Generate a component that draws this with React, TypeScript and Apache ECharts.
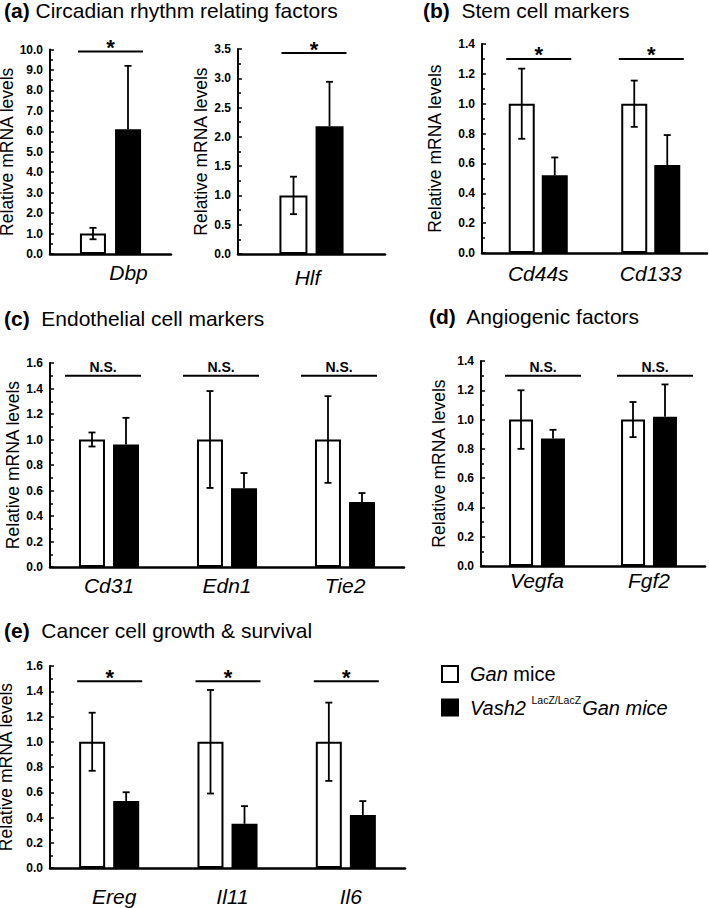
import React, { useEffect, useRef } from 'react';
import * as echarts from 'echarts';

// ---------- data ----------
const ganName = 'Gan mice';
const vashName = 'Vash2 LacZ/LacZ Gan mice';

const catsA1 = ['Dbp'];
const ganA1 = [1.0];
const ganErrA1 = [0.28];
const vashA1 = [6.1];
const vashErrA1 = [3.1];
const sigA1 = ['*'];

const catsA2 = ['Hlf'];
const ganA2 = [1.0];
const ganErrA2 = [0.32];
const vashA2 = [2.18];
const vashErrA2 = [0.76];
const sigA2 = ['*'];

const catsB = ['Cd44s', 'Cd133'];
const ganB = [1.0, 1.0];
const ganErrB = [0.235, 0.155];
const vashB = [0.52, 0.59];
const vashErrB = [0.12, 0.2];
const sigB = ['*', '*'];

const catsC = ['Cd31', 'Edn1', 'Tie2'];
const ganC = [1.0, 1.0, 1.0];
const ganErrC = [0.055, 0.38, 0.34];
const vashC = [0.96, 0.617, 0.51];
const vashErrC = [0.21, 0.12, 0.07];
const sigC = ['N.S.', 'N.S.', 'N.S.'];

const catsD = ['Vegfa', 'Fgf2'];
const ganD = [1.0, 1.0];
const ganErrD = [0.2, 0.12];
const vashD = [0.87, 1.02];
const vashErrD = [0.06, 0.22];
const sigD = ['N.S.', 'N.S.'];

const catsE = ['Ereg', 'Il11', 'Il6'];
const ganE = [1.0, 1.0, 1.0];
const ganErrE = [0.23, 0.41, 0.31];
const vashE = [0.53, 0.35, 0.42];
const vashErrE = [0.07, 0.14, 0.11];
const sigE = ['*', '*', '*'];

const yMaxes = [10, 3.5, 1.4, 1.6, 1.4, 1.6];
const yIntervals = [1, 0.5, 0.2, 0.2, 0.2, 0.2];
const sigLevels = [9.9, 3.43, 1.3, 1.5, 1.3, 1.48];

const titles = [
  { tag: '(a)', text: ' Circadian rhythm relating factors' },
  { tag: '(b)', text: '  Stem cell markers' },
  { tag: '(c)', text: '  Endothelial cell markers' },
  { tag: '(d)', text: '  Angiogenic factors' },
  { tag: '(e)', text: '  Cancer cell growth & survival' },
];
const yName = 'Relative mRNA levels';

// ---------- layout / style ----------
const FONT = 'Liberation Sans, Arial, Helvetica, sans-serif';

const panels = [
  { cats: catsA1, gan: ganA1, ganErr: ganErrA1, vash: vashA1, vashErr: vashErrA1, sig: sigA1,
    grid: { left: 50, top: 49.5, width: 121, height: 204.5 }, barW: 26, gap: 9, nameGap: 28, labelMargin: 8, shift: 18, sigX: [-32.5, 32.5], sigSize: 22 },
  { cats: catsA2, gan: ganA2, ganErr: ganErrA2, vash: vashA2, vashErr: vashErrA2, sig: sigA2,
    grid: { left: 238, top: 49, width: 147, height: 205 }, barW: 28, gap: 8, nameGap: 19, labelMargin: 13, shift: -4, sigX: [-30, 35], sigSize: 22 },
  { cats: catsB, gan: ganB, ganErr: ganErrB, vash: vashB, vashErr: vashErrB, sig: sigB,
    grid: { left: 482, top: 44, width: 225, height: 209 }, barW: 26, gap: 7, nameGap: 38, labelMargin: 10, shift: 0, sigX: [-32, 33], sigSize: 22 },
  { cats: catsC, gan: ganC, ganErr: ganErrC, vash: vashC, vashErr: vashErrC, sig: sigC,
    grid: { left: 50, top: 363, width: 354, height: 204 }, barW: 26, gap: 8, nameGap: 28, labelMargin: 8, shift: 0, sigX: [-44, 32], sigSize: 14 },
  { cats: catsD, gan: ganD, ganErr: ganErrD, vash: vashD, vashErr: vashErrD, sig: sigD,
    grid: { left: 481, top: 361, width: 224, height: 205 }, barW: 24, gap: 8, nameGap: 33, labelMargin: 4, shift: 0, sigX: [-32, 44], sigSize: 14 },
  { cats: catsE, gan: ganE, ganErr: ganErrE, vash: vashE, vashErr: vashErrE, sig: sigE,
    grid: { left: 50, top: 666, width: 355, height: 202 }, barW: 26, gap: 8, nameGap: 28, labelMargin: 18, shift: 5, sigX: [-32, 33], sigSize: 22 },
];

const titlePos = [
  { left: 4, top: 0 },
  { left: 423, top: 0 },
  { left: 4, top: 308 },
  { left: 429, top: 306 },
  { left: 4, top: 620 },
];

function errRenderer(off: number, lowerToo: boolean) {
  return (params: any, api: any) => {
    const k = api.value(0);
    const m = api.value(1);
    const e = api.value(2);
    const top = api.coord([k, m + e]);
    const bot = api.coord([k, lowerToo ? m - e : m]);
    const x = top[0] + off;
    const cap = 3.5;
    const st = { stroke: '#000', lineWidth: 1.8, fill: 'none' };
    const children: any[] = [
      { type: 'line', shape: { x1: x, y1: top[1], x2: x, y2: bot[1] }, style: st },
      { type: 'line', shape: { x1: x - cap, y1: top[1], x2: x + cap, y2: top[1] }, style: st },
    ];
    if (lowerToo) children.push({ type: 'line', shape: { x1: x - cap, y1: bot[1], x2: x + cap, y2: bot[1] }, style: st });
    return { type: 'group', children };
  };
}

function sigRenderer(labels: string[], sx: number[], size: number) {
  return (params: any, api: any) => {
    const k = api.value(0);
    const lv = api.value(1);
    const p = api.coord([k, lv]);
    const x1 = p[0] + sx[0];
    const x2 = p[0] + sx[1];
    const isStar = labels[k] === '*';
    return {
      type: 'group',
      children: [
        { type: 'line', shape: { x1, y1: p[1], x2, y2: p[1] }, style: { stroke: '#000', lineWidth: 2 } },
        {
          type: 'text',
          x: (x1 + x2) / 2,
          y: isStar ? p[1] + 7 : p[1] - 2,
          style: {
            text: labels[k], fontSize: size, fontWeight: 'bold', fontFamily: FONT,
            fill: '#000', align: 'center', verticalAlign: 'bottom',
          },
        },
      ],
    };
  };
}

export default function App() {
  const ref = useRef<HTMLDivElement>(null);
  useEffect(() => {
    if (!ref.current) return;
    const chart = echarts.init(ref.current, null, { renderer: 'svg' });

    const grids: any[] = [];
    const xAxes: any[] = [];
    const yAxes: any[] = [];
    const series: any[] = [];

    panels.forEach((p, i) => {
      grids.push({ ...p.grid, containLabel: false, outerBoundsMode: 'none' });
      const padL = p.shift > 0 ? p.shift * 2 : 0;
      const padR = p.shift < 0 ? -p.shift * 2 : 0;
      xAxes.push({
        type: 'category', gridIndex: i, data: p.cats,
        axisLine: { lineStyle: { color: '#000', width: 2.5 } },
        axisTick: { show: false },
        axisLabel: {
          color: '#000', fontSize: 21, fontStyle: 'italic', fontFamily: FONT,
          margin: p.labelMargin, interval: 0,
          formatter: (v: string) => '{c|' + v + '}',
          rich: {
            c: {
              fontSize: 21, fontStyle: 'italic', fontFamily: FONT, color: '#000',
              padding: [0, padR, 0, padL],
            },
          },
        },
      });
      yAxes.push({
        type: 'value', gridIndex: i, min: 0, max: yMaxes[i], interval: yIntervals[i],
        name: yName, nameLocation: 'middle', nameGap: p.nameGap,
        nameTextStyle: { color: '#000', fontSize: 17.5, fontFamily: FONT, lineHeight: 18 },
        axisLine: { show: true, lineStyle: { color: '#000', width: 2 } },
        axisTick: { show: true, inside: true, length: 4, lineStyle: { color: '#000', width: 1.5 } },
        minorTick: { show: true, splitNumber: 2, length: 3, lineStyle: { color: '#000', width: 1.5 } },
        splitLine: { show: false },
        axisLabel: {
          color: '#000', fontSize: 12, fontWeight: 'bold', fontFamily: FONT, margin: 7,
          formatter: (v: number) => v.toFixed(1),
        },
      });
      const gapPct = Math.round((p.gap / p.barW) * 100) + '%';
      series.push({
        type: 'bar', name: ganName, xAxisIndex: i, yAxisIndex: i, data: p.gan,
        barWidth: p.barW, barGap: gapPct,
        itemStyle: { color: '#fff', borderColor: '#000', borderWidth: 2 },
      });
      series.push({
        type: 'bar', name: vashName, xAxisIndex: i, yAxisIndex: i, data: p.vash,
        barWidth: p.barW, barGap: gapPct,
        itemStyle: { color: '#000', borderColor: '#000', borderWidth: 2 },
      });
      const off = (p.barW + p.gap) / 2;
      series.push({
        type: 'custom', xAxisIndex: i, yAxisIndex: i, z: 5, clip: false, silent: true,
        data: p.gan.map((m, k) => [k, m, p.ganErr[k]]),
        renderItem: errRenderer(-off, true),
      });
      series.push({
        type: 'custom', xAxisIndex: i, yAxisIndex: i, z: 5, clip: false, silent: true,
        data: p.vash.map((m, k) => [k, m, p.vashErr[k]]),
        renderItem: errRenderer(off, false),
      });
      series.push({
        type: 'custom', xAxisIndex: i, yAxisIndex: i, z: 5, clip: false, silent: true,
        data: p.cats.map((c, k) => [k, sigLevels[i]]),
        renderItem: sigRenderer(p.sig, p.sigX, p.sigSize),
      });
    });

    const option: any = {
      animation: false,
      backgroundColor: '#fff',
      title: titles.map((t, i) => ({
        left: titlePos[i].left, top: titlePos[i].top, padding: 0,
        text: '{b|' + t.tag + '}' + t.text,
        textStyle: {
          color: '#000', fontSize: 21, fontWeight: 'normal', fontFamily: FONT,
          rich: { b: { fontSize: 21, fontWeight: 'bold', fontFamily: FONT, color: '#000' } },
        },
      })),
      legend: {
        data: [ganName, vashName],
        orient: 'vertical', left: 441, top: 664, padding: 0,
        itemWidth: 16, itemHeight: 16, itemGap: 10, icon: 'rect',
        selectedMode: false,
        itemStyle: { borderColor: '#000', borderWidth: 2 },
        formatter: (n: string) =>
          n === ganName ? '{it|Gan} {n|mice}' : '{it|Vash2 }{sup|LacZ/LacZ}{it|Gan mice}',
        textStyle: {
          color: '#000', fontSize: 20, fontFamily: FONT, padding: [0, 0, 0, 7],
          rich: {
            it: { fontSize: 20, fontStyle: 'italic', fontFamily: FONT, color: '#000' },
            n: { fontSize: 20, fontFamily: FONT, color: '#000' },
            sup: { fontSize: 10.5, fontFamily: FONT, color: '#000', padding: [0, 1, 16, 0] },
          },
        },
      },
      grid: grids,
      xAxis: xAxes,
      yAxis: yAxes,
      series,
    };
    chart.setOption(option);
    return () => chart.dispose();
  }, []);
  return (
    <div
      ref={ref}
      style={{ position: 'absolute', left: 0, top: 0, width: 709, height: 908, background: '#fff' }}
    />
  );
}
